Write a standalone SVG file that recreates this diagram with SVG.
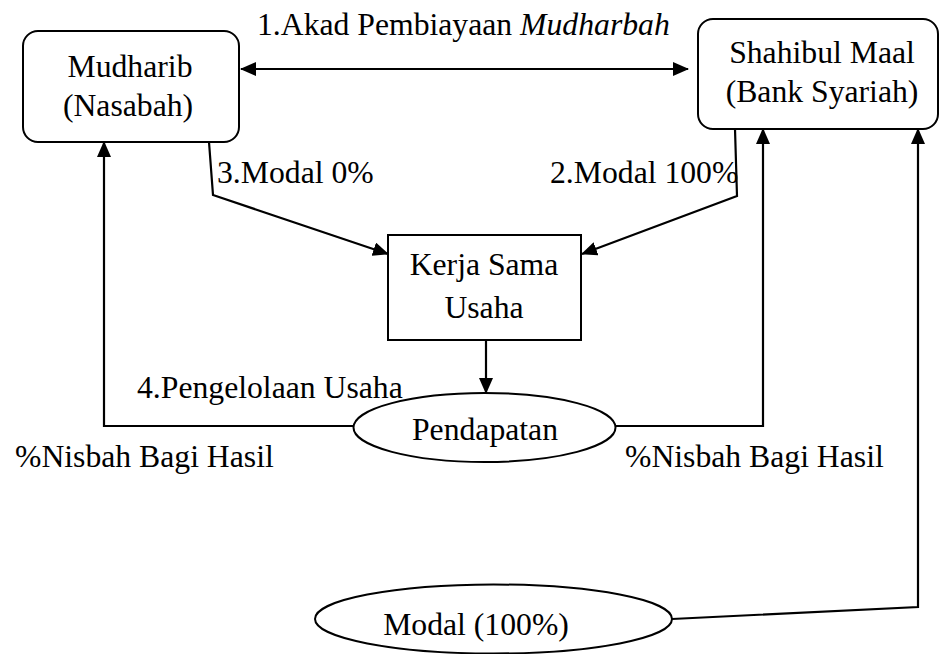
<svg xmlns="http://www.w3.org/2000/svg" width="939" height="654" viewBox="0 0 939 654">
<style>
text{font-family:"Liberation Serif","Times New Roman",serif;font-size:31.7px;fill:#000}
.shape{fill:#fff;stroke:#000;stroke-width:2}
.line{fill:none;stroke:#000;stroke-width:2.2}
.mid{text-anchor:middle}
</style>
<defs>
<marker id="ah" viewBox="0 0 16 14" refX="15" refY="7" markerWidth="16" markerHeight="14" markerUnits="userSpaceOnUse" orient="auto-start-reverse">
<path d="M0,0 L16,7 L0,14 Z" fill="#000"/>
</marker>
</defs>
<rect width="939" height="654" fill="#fff"/>
<g id="connectors">
<line class="line" x1="241" y1="69" x2="688" y2="69" marker-start="url(#ah)" marker-end="url(#ah)"/>
<polyline class="line" points="209,142 213,195 388,254" marker-end="url(#ah)"/>
<polyline class="line" points="735,129 737,196 582,254" marker-end="url(#ah)"/>
<line class="line" x1="486" y1="340" x2="486" y2="393" marker-end="url(#ah)"/>
<polyline class="line" points="353,426 104,426 104,142" marker-end="url(#ah)"/>
<polyline class="line" points="616,426 763,426 763,129" marker-end="url(#ah)"/>
<polyline class="line" points="672,619 918,607 918,129" marker-end="url(#ah)"/>
</g>
<g id="labels">
<text x="257" y="35">1.Akad Pembiayaan <tspan font-style="italic">Mudharbah</tspan></text>
<text x="217" y="183">3.Modal 0%</text>
<text x="550" y="183">2.Modal 100%</text>
<text x="137" y="398">4.Pengelolaan Usaha</text>
<text x="15" y="467">%Nisbah Bagi Hasil</text>
<text x="625" y="467">%Nisbah Bagi Hasil</text>
</g>
<g id="mudharib">
<rect class="shape" x="23" y="31" width="216" height="111" rx="15"/>
<text class="mid" x="130" y="77">Mudharib</text>
<text class="mid" x="128" y="116">(Nasabah)</text>
</g>
<g id="shahibul">
<rect class="shape" x="698" y="19" width="240" height="110" rx="15"/>
<text class="mid" x="822" y="63">Shahibul Maal</text>
<text class="mid" x="822" y="102">(Bank Syariah)</text>
</g>
<g id="kerja">
<rect class="shape" x="388" y="235" width="193" height="105"/>
<text class="mid" x="484" y="275">Kerja Sama</text>
<text class="mid" x="484" y="318">Usaha</text>
</g>
<g id="pendapatan">
<ellipse class="shape" cx="484.5" cy="427.5" rx="131" ry="34.5"/>
<text class="mid" x="485" y="440">Pendapatan</text>
</g>
<g id="modal">
<ellipse class="shape" cx="493.5" cy="619" rx="178.5" ry="34.5"/>
<text class="mid" x="476" y="635">Modal (100%)</text>
</g>
</svg>
